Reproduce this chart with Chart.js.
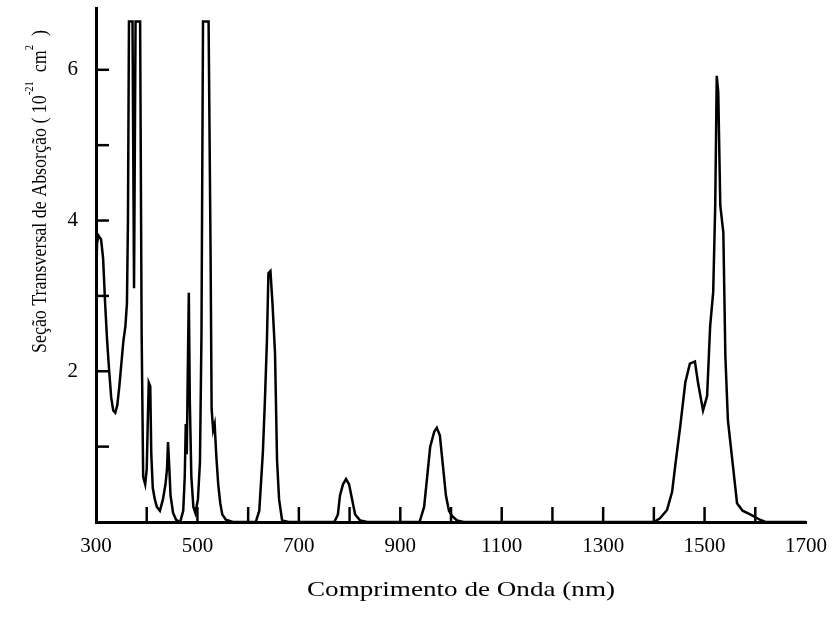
<!DOCTYPE html>
<html>
<head>
<meta charset="utf-8">
<script src="https://cdn.jsdelivr.net/npm/chart.js@4.4.1/dist/chart.umd.min.js"></script>
<style>
  html, body { margin: 0; padding: 0; background: #fff; }
  #wrap { width: 836px; height: 627px; }
</style>
</head>
<body>
<div id="wrap"><canvas id="grafico"></canvas></div>
<script>
// Espectro de absorção
// comprimento de onda em nm
const comprimento = [
  300, 302, 305, 310, 314, 318, 322, 326, 330, 334, 338, 342, 346, 350, 354, 358, 361, 363,
  365, 372, 375, 378, 387, 390, 393, 397, 400, 402, 404, 407, 409, 412, 416, 420, 426, 432,
  437, 440, 442, 444, 447, 452, 458, 466, 472, 475, 477, 479, 481, 483, 485, 488, 492, 496,
  501, 505, 508, 511, 522, 526, 528, 531, 534, 537, 541, 545, 549, 556, 570,
  615, 622, 629, 633, 637, 640, 644, 648, 653, 657, 661, 667, 680,
  770, 777, 781, 787, 793, 799, 805, 811, 821, 835,
  938, 947, 953, 959, 967, 972, 978, 984, 990, 996, 1002, 1012, 1025,
  1400, 1412, 1426, 1436, 1442, 1452, 1462, 1471, 1481, 1487, 1497, 1505, 1511, 1517, 1521,
  1524, 1527, 1531, 1537, 1541, 1546, 1556, 1564, 1575, 1590, 1609, 1620, 1700
];
// seção transversal de absorção (10^-21 cm^2)
const secao = [
  2.9, 3.7, 3.8, 3.75, 3.5, 2.9, 2.4, 2.0, 1.65, 1.48, 1.45, 1.55, 1.8, 2.1, 2.4, 2.6, 2.9, 4.0,
  6.64, 6.64, 3.1, 6.64, 6.64, 2.5, 0.6, 0.5, 0.7, 1.3, 1.85, 1.8, 0.9, 0.45, 0.3, 0.2, 0.15, 0.3,
  0.5, 0.7, 1.06, 0.8, 0.35, 0.12, 0.03, 0.0, 0.15, 0.6, 1.3, 0.9, 2.0, 3.04, 1.6, 0.6, 0.2, 0.12,
  0.3, 0.8, 2.5, 6.64, 6.64, 3.5, 1.5, 1.22, 1.3, 0.9, 0.5, 0.25, 0.1, 0.03, 0.0,
  0.0, 0.15, 0.92, 1.6, 2.4, 3.3, 3.33, 2.9, 2.24, 0.82, 0.3, 0.02, 0.0,
  0.0, 0.1, 0.35, 0.5, 0.57, 0.5, 0.3, 0.1, 0.02, 0.0,
  0.0, 0.2, 0.6, 1.0, 1.2, 1.25, 1.15, 0.75, 0.35, 0.15, 0.08, 0.02, 0.0,
  0.0, 0.05, 0.16, 0.4, 0.74, 1.27, 1.85, 2.1, 2.13, 1.85, 1.48, 1.67, 2.6, 3.05, 4.2,
  5.92, 5.7, 4.2, 3.84, 2.2, 1.35, 0.74, 0.25, 0.15, 0.1, 0.03, 0.0, 0.0
];

const rotulosX = [300, 500, 700, 900, 1100, 1300, 1500, 1700];
const rotulosY = [2, 4, 6];

const tituloX = 'Comprimento de Onda (nm)';
// título do eixo y em partes (normal / sobrescrito)
const tituloY = [
  ['Seção Transversal de Absorção ( 10', false],
  ['-21', true],
  ['  cm', false],
  ['2', true],
  ['  )', false]
];

const FONTE = "'Liberation Serif', 'DejaVu Serif', serif";

// marcas de escala voltadas para dentro
const marcasInternas = {
  id: 'marcasInternas',
  afterDatasetsDraw(chart) {
    const { ctx, scales: { x, y } } = chart;
    ctx.save();
    ctx.strokeStyle = '#000';
    ctx.lineWidth = 2.5;
    x.ticks.forEach((t) => {
      if (t.value <= x.min || t.value >= x.max) return;
      const px = x.getPixelForValue(t.value);
      ctx.beginPath();
      ctx.moveTo(px, y.bottom);
      ctx.lineTo(px, y.bottom - 15);
      ctx.stroke();
    });
    y.ticks.forEach((t) => {
      if (t.value <= y.min || !Number.isInteger(t.value)) return;
      const py = y.getPixelForValue(t.value);
      ctx.beginPath();
      ctx.moveTo(x.left, py);
      ctx.lineTo(x.left + 13, py);
      ctx.stroke();
    });
    ctx.restore();
  }
};

// títulos dos eixos, esticados na horizontal como na figura escaneada
const titulos = {
  id: 'titulos',
  afterDraw(chart) {
    const { ctx } = chart;
    ctx.save();
    ctx.fillStyle = '#000';
    ctx.textBaseline = 'alphabetic';

    // eixo x
    ctx.font = '22px ' + FONTE;
    const wx = ctx.measureText(tituloX).width;
    ctx.save();
    ctx.translate(461, 596);
    ctx.scale(308 / wx, 1);
    ctx.textAlign = 'left';
    ctx.fillText(tituloX, -wx / 2, 0);
    ctx.restore();

    // eixo y
    const fN = '22px ' + FONTE, fS = '13px ' + FONTE;
    let total = 0;
    tituloY.forEach(([t, sup]) => { ctx.font = sup ? fS : fN; total += ctx.measureText(t).width; });
    ctx.save();
    ctx.translate(46, 191.5);
    ctx.rotate(-Math.PI / 2);
    ctx.scale(323 / total, 1);
    let pos = -total / 2;
    ctx.textAlign = 'left';
    tituloY.forEach(([t, sup]) => {
      ctx.font = sup ? fS : fN;
      ctx.fillText(t, pos, sup ? -13 : 0);
      pos += ctx.measureText(t).width;
    });
    ctx.restore();

    ctx.restore();
  }
};

const pontos = comprimento.map((c, i) => ({ x: c, y: secao[i] }));

new Chart(document.getElementById('grafico'), {
  type: 'line',
  data: {
    datasets: [{
      data: pontos,
      borderColor: '#000',
      borderWidth: 2.5,
      pointRadius: 0,
      tension: 0,
      fill: false
    }]
  },
  options: {
    responsive: true,
    maintainAspectRatio: false,
    animation: false,
    layout: { padding: { top: 8, right: 30, left: 0, bottom: 0 } },
    plugins: { legend: { display: false }, tooltip: { enabled: false } },
    scales: {
      x: {
        type: 'linear', min: 300, max: 1700,
        afterFit: (s) => { s.height = 105; s.paddingRight = 0; s.paddingLeft = 0; },
        grid: { display: false, drawTicks: false },
        border: { display: true, color: '#000', width: 3 },
        ticks: {
          stepSize: 100, autoSkip: false, maxRotation: 0, padding: 12, color: '#000',
          font: { family: FONTE, size: 21 },
          callback: (v) => (rotulosX.includes(v) ? String(v) : '')
        }
      },
      y: {
        min: 0, max: 6.82,
        afterFit: (s) => { s.width = 96; s.paddingTop = 0; s.paddingBottom = 0; },
        grid: { display: false, drawTicks: false },
        border: { display: true, color: '#000', width: 3 },
        ticks: {
          stepSize: 1, padding: 18, color: '#000',
          font: { family: FONTE, size: 21 },
          callback: (v) => (rotulosY.includes(v) ? String(v) : '')
        }
      }
    }
  },
  plugins: [marcasInternas, titulos]
});
</script>
</body>
</html>
